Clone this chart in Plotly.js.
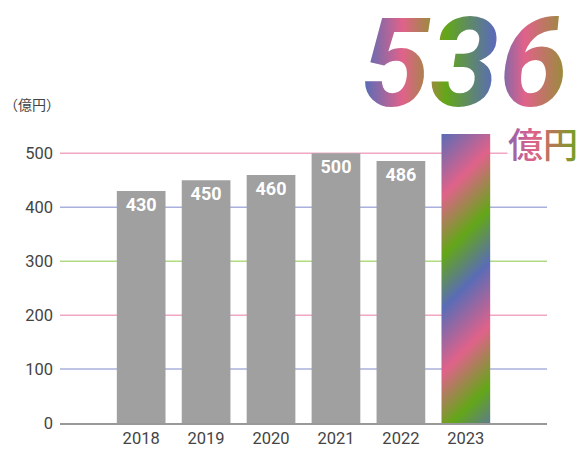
<!DOCTYPE html>
<html>
<head>
<meta charset="utf-8">
<script src="https://cdn.plot.ly/plotly-3.0.1.min.js"></script>
<style>
html,body{margin:0;padding:0;background:#fff;}
#chart{width:582px;height:450px;}
</style>
</head>
<body>
<div id="chart"></div>
<script>
// ---- data ----
var years = ['2018', '2019', '2020', '2021', '2022', '2023'];
var sales = [430, 450, 460, 500, 486, 536];
var highlightYear = '2023';
var gridValues = [100, 200, 300, 400, 500];
var gridColors = ['#aab0dc', '#f0a6c4', '#b2da86', '#aab0dc', '#f0a6c4'];
var unitLabel = '（億円）';
var bigNumber = '536';
var bigUnit = '億円';

var labels = sales.map(function (v, i) { return years[i] === highlightYear ? '' : String(v); });

var trace = {
  type: 'bar',
  x: years,
  y: sales,
  width: 0.75,
  marker: { color: '#a0a0a0', line: { width: 0 } },
  text: labels,
  textposition: 'inside',
  insidetextanchor: 'end',
  textangle: 0,
  textfont: { family: 'Roboto', size: 18, color: '#ffffff', weight: 'bold' },
  hoverinfo: 'none',
  cliponaxis: false
};

var shapes = gridValues.map(function (v, i) {
  return {
    type: 'line', xref: 'paper', yref: 'y', x0: 0, x1: 1, y0: v, y1: v,
    line: { color: gridColors[i], width: 1.5 }, layer: 'below'
  };
});

var layout = {
  width: 582, height: 450,
  margin: { l: 60, r: 35, t: 121, b: 27 },
  paper_bgcolor: '#ffffff', plot_bgcolor: '#ffffff',
  showlegend: false,
  font: { family: 'Roboto', color: '#444' },
  xaxis: {
    type: 'category',
    range: [-1.25, 6.25],
    showgrid: false, zeroline: false,
    showline: true, linecolor: '#999999', linewidth: 1.5,
    ticks: '', tickfont: { family: 'Roboto', size: 16.5, color: '#444' },
    fixedrange: true
  },
  yaxis: {
    range: [0, 560],
    tickvals: [0].concat(gridValues),
    ticktext: [0].concat(gridValues).map(String),
    showgrid: false, zeroline: false, showline: false,
    ticks: '', ticklabelstandoff: 6,
    tickfont: { family: 'Roboto', size: 16.5, color: '#444' },
    fixedrange: true
  },
  shapes: shapes,
  annotations: [
    {
      xref: 'paper', yref: 'paper', x: -0.119, y: 1.055, xanchor: 'left', yanchor: 'middle',
      text: unitLabel, showarrow: false,
      font: { family: 'Noto Sans CJK JP', size: 14, color: '#444' }
    },
    {
      xref: 'paper', yref: 'paper', x: 0.83, y: 1.19, xanchor: 'center', yanchor: 'middle',
      text: bigNumber, showarrow: false,
      font: { family: 'Roboto', size: 124, color: '#e0628a', style: 'italic', weight: 'bold' }
    },
    {
      xref: 'paper', yref: 'paper', x: 0.992, y: 0.929, xanchor: 'center', yanchor: 'middle',
      text: bigUnit, showarrow: false, bgcolor: '#ffffff', borderpad: 0,
      font: { family: 'Noto Sans CJK JP', size: 35, color: '#c0608a', weight: 500 }
    }
  ]
};

function addGradients() {
  var svg = document.querySelector('#chart .main-svg');
  var ns = 'http://www.w3.org/2000/svg';
  var defs = svg.querySelector('defs');
  if (!defs) { defs = document.createElementNS(ns, 'defs'); svg.insertBefore(defs, svg.firstChild); }

  function makeGrad(id, x1, y1, x2, y2, stops, spread) {
    var g = document.createElementNS(ns, 'linearGradient');
    g.setAttribute('id', id);
    g.setAttribute('gradientUnits', 'userSpaceOnUse');
    g.setAttribute('x1', x1); g.setAttribute('y1', y1);
    g.setAttribute('x2', x2); g.setAttribute('y2', y2);
    if (spread) g.setAttribute('spreadMethod', spread);
    stops.forEach(function (s) {
      var st = document.createElementNS(ns, 'stop');
      st.setAttribute('offset', s[0]);
      st.setAttribute('stop-color', s[1]);
      g.appendChild(st);
    });
    defs.appendChild(g);
  }

  var blue = '#5a6cb6', pink = '#e0628a', green = '#63a718', olive = '#9a8c3c', purple = '#8e64ac';

  // highlight bar
  var idx = years.indexOf(highlightYear);
  var paths = document.querySelectorAll('#chart .bars .point path');
  if (paths[idx]) {
    var b = paths[idx].getBBox();
    makeGrad('barGrad', b.x, b.y, b.x + 88, b.y + 88,
      [[0, blue], [0.36, pink], [0.7, green], [1, blue]], 'repeat');
    paths[idx].style.fill = 'url(#barGrad)';
    paths[idx].style.fillOpacity = 1;
  }

  var texts = document.querySelectorAll('#chart .annotation-text');
  texts.forEach(function (t) {
    var txt = t.textContent;
    var bb = t.getBBox();
    if (txt === bigNumber) {
      makeGrad('numGrad', bb.x, bb.y, bb.x + bb.width, bb.y,
        [[0.02, blue], [0.2, pink], [0.34, olive], [0.41, green], [0.64, blue], [0.79, pink], [0.98, olive]]);
      t.style.fill = 'url(#numGrad)';
    } else if (txt === bigUnit) {
      makeGrad('unitGrad', bb.x, bb.y, bb.x + bb.width, bb.y,
        [[0, purple], [0.35, pink], [0.65, '#b07a50'], [1, '#6ea41e']]);
      t.style.fill = 'url(#unitGrad)';
    }
  });
}

Plotly.newPlot('chart', [trace], layout, { displayModeBar: false, staticPlot: true }).then(addGradients);
</script>
</body>
</html>
